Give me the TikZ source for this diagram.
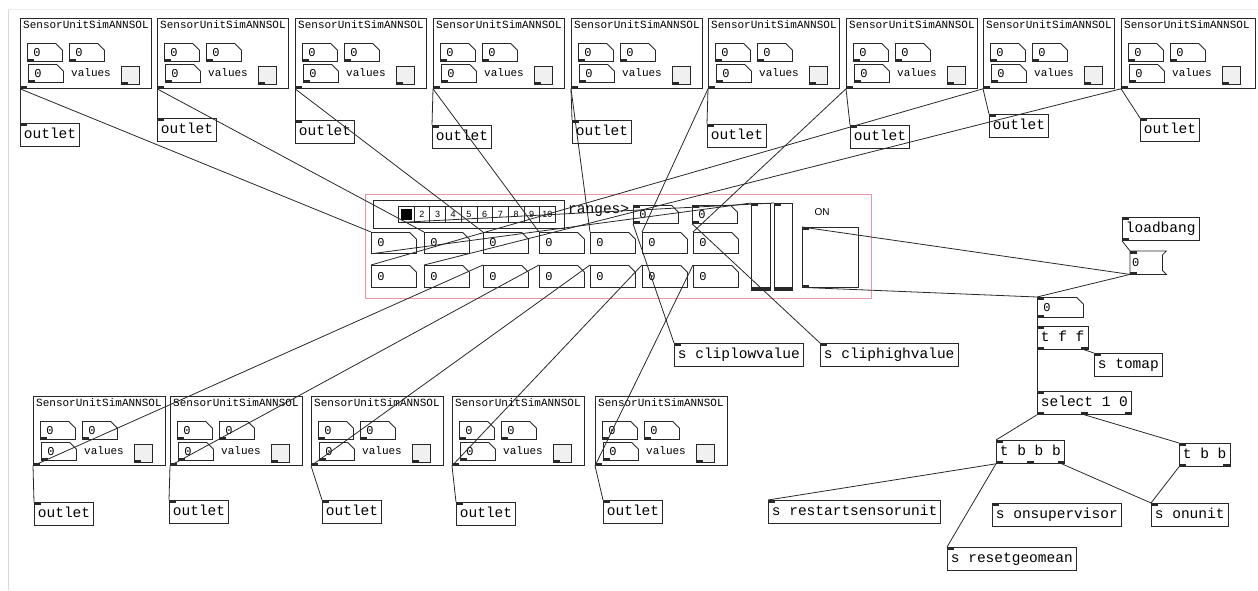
\documentclass[tikz,border=0pt]{standalone}
\usepackage{fontspec}
\setmonofont{Liberation Mono}
\setsansfont{Liberation Sans}
\usetikzlibrary{shapes.misc}
\definecolor{pdline}{RGB}{40,40,40}
\definecolor{pdpink}{RGB}{236,150,165}
\newcommand\pdfont{\ttfamily\fontsize{14.5}{16}\selectfont}
\newcommand\subfont{\ttfamily\fontsize{11}{12}\selectfont}
\newcommand\numfont{\ttfamily\fontsize{12}{12}\selectfont}

\tikzset{
  obj/.style={draw=pdline, line width=0.8pt, fill=white, anchor=north west, font=\pdfont,
    inner xsep=3.5pt, inner ysep=0pt, minimum height=23pt, text height=10pt, text depth=3pt},
  atom/.style={chamfered rectangle, chamfered rectangle corners=north east,
    chamfered rectangle xsep=5pt, draw=pdline, line width=0.8pt, fill=white,
    anchor=north west, font=\numfont, inner xsep=2pt, inner ysep=0pt,
    text width=#1, align=left, minimum height=20pt},
  atom/.default=23pt,
  sensorbox/.style={draw=pdline, line width=0.8pt, anchor=north west,
    minimum height=70pt, inner sep=0pt},
  wire/.style={draw=pdline, line width=0.8pt},
}

% inside of one SensorUnitSimANNSOL subpatch
\newcommand\sensorparts[1]{%
  \begin{scope}[shift={(#1.north west)}]
    \node[anchor=west, font=\subfont, inner sep=0pt] (#1-t) at (3,7) {SensorUnitSimANNSOL};
    \node[atom, minimum height=18pt] (#1-a1) at (7,25) {0};
    \node[atom, minimum height=18pt] (#1-a2) at (49,25) {0};
    \node[atom, minimum height=18pt] (#1-a3) at (8,46) {0};
    \node[anchor=west, font=\subfont, inner sep=0pt] (#1-v) at (51,55) {values};
    \node[draw=pdline, fill=gray!12, anchor=north west, minimum size=18pt, inner sep=0pt] (#1-x) at (101,48) {};
  \end{scope}
  \foreach \a in {a1,a2,a3,x} \fill[pdline] (#1-\a.south west) rectangle ++(7pt,2.5pt);
  \fill[pdline] (#1.south west) rectangle ++(7pt,2.5pt);}

\begin{document}
\begin{tikzpicture}[x=1pt,y=-1pt]
\useasboundingbox (0,0) rectangle (1258,590);
\draw[gray!30, line width=1pt] (8,9) -- (8,590);
\draw[gray!15, line width=1pt] (8,9) -- (1258,9);

% sensor units, top row and bottom row
\foreach \n/\x/\w in {1/20/131,2/157/131,3/295/131,4/433/131,5/571/131,6/708/131,7/846/131,8/983/131,9/1121/134}
  \node[sensorbox, minimum width=\w pt] (s\n) at (\x,18) {};
\foreach \n/\x in {1/33,2/170,3/311,4/452,5/595}
  \node[sensorbox, minimum width=132pt, minimum height=69pt] (b\n) at (\x,396) {};
\foreach \n in {1,...,9} \sensorparts{s\n};
\foreach \n in {1,...,5} \sensorparts{b\n};

\foreach \n/\x/\y in {1/20/123,2/157/118,3/295/120,4/432/125,5/572/120,6/707/124,7/850/125,8/989/114,9/1140/118}
  \node[obj] (o\n) at (\x,\y) {outlet};
\foreach \n/\x/\y in {1/34/502,2/169/500,3/322/500,4/456/502,5/603/500}
  \node[obj] (p\n) at (\x,\y) {outlet};

% the ranges panel
\node[draw=pdpink, line width=0.8pt, fill=white, anchor=north west, minimum width=506pt,
  minimum height=104pt, inner sep=0pt] (panel) at (365,194) {};
\node[draw=pdline, line width=0.6pt, anchor=north west, minimum width=191pt,
  minimum height=28pt, inner sep=0pt] (frame) at (373,200) {};
\foreach \k in {1,...,10}
  \node[draw=pdline, line width=0.5pt, anchor=north west, minimum width=15.7pt, minimum height=16pt,
    inner sep=0pt, font=\sffamily\fontsize{9}{9}\selectfont] (rc\k) at ({398+15.7*(\k-1)},206) {\ifnum\k>1 \k\fi};
\fill[black] ([shift={(2.5pt,-2.5pt)}]rc1.north west) rectangle ([shift={(-2.5pt,2.5pt)}]rc1.south east);
\node[anchor=west, font=\pdfont, inner sep=0pt] (rlabel) at (568,211) {ranges>};
\node[atom=33pt, minimum height=18pt] (rg1) at (633,205) {0};
\node[atom=33pt, minimum height=18pt] (rg2) at (692,205) {0};
\foreach \k/\x in {1/371,2/424,3/483,4/539,5/590,6/642,7/693} {
  \node[atom=33pt, minimum height=21pt] (ra\k) at (\x,232) {0};
  \node[atom=33pt, minimum height=22pt] (rb\k) at (\x,265) {0};
}
\node[draw=pdline, anchor=north west, minimum width=19pt, minimum height=87pt, inner sep=0pt] (sl1) at (751,203) {};
\node[draw=pdline, anchor=north west, minimum width=18pt, minimum height=87pt, inner sep=0pt] (sl2) at (774,203) {};
\foreach \n in {sl1,sl2} \fill[pdline] (\n.south west) rectangle ([yshift=3pt]\n.south east);
\node[font=\sffamily\fontsize{10}{10}\selectfont, inner sep=0pt] (onlabel) at (822,212) {ON};
\node[draw=pdline, anchor=north west, minimum width=56pt, minimum height=60pt, inner sep=0pt] (tg) at (802,227) {};

% control chain on the right
\node[obj] (lb) at (1122,217) {loadbang};
\node[anchor=north west, font=\numfont, inner xsep=2pt, inner ysep=0pt, text width=28pt,
  minimum height=23pt] (msg) at (1130,251) {0};
\draw[wire] (msg.north west) -- ([xshift=4pt]msg.north east) -- ([yshift=-4pt]msg.north east)
  -- ([yshift=4pt]msg.south east) -- ([xshift=4pt]msg.south east) -- (msg.south west) -- cycle;
\node[atom=34pt, minimum height=20pt] (num) at (1037,297) {0};
\node[obj] (tff) at (1037,326) {t f f};
\node[obj] (tomap) at (1094,353) {s tomap};
\node[obj] (sel) at (1037,391) {select 1 0};
\node[obj] (tbbb) at (996,440) {t b b b};
\node[obj] (tbb) at (1179,443) {t b b};
\node[obj] (restart) at (768,500) {s restartsensorunit};
\node[obj] (onsup) at (992,503) {s onsupervisor};
\node[obj] (onunit) at (1151,503) {s onunit};
\node[obj] (resetgeo) at (947,547) {s resetgeomean};
\node[obj] (cliplow) at (674,343) {s cliplowvalue};
\node[obj] (cliphigh) at (820,343) {s cliphighvalue};

% inlets and outlets
\foreach \n in {o1,o2,o3,o4,o5,o6,o7,o8,o9,p1,p2,p3,p4,p5,lb,msg,tff,tomap,sel,tbbb,tbb,restart,onsup,onunit,resetgeo,cliplow,cliphigh,num,rg1,rg2,tg,sl1,sl2}
  \fill[pdline] (\n.north west) rectangle ++(7pt,-2.5pt);
\foreach \n in {lb,msg,num,tff,sel,tbbb,tbb,rg1,rg2,tg}
  \fill[pdline] (\n.south west) rectangle ++(7pt,2.5pt);
\foreach \n in {tff,sel,tbbb,tbb}
  \fill[pdline] (\n.south east) rectangle ++(-7pt,2.5pt);
\fill[pdline] ([xshift=-3.5pt]sel.south) rectangle ++(7pt,2.5pt);
\fill[pdline] ([xshift=-3.5pt]tbbb.south) rectangle ++(7pt,2.5pt);

% connections
\foreach \n in {1,...,9} \draw[wire] (s\n.south west) -- (o\n.north west);
\foreach \n in {1,...,5} \draw[wire] (b\n.south west) -- (p\n.north west);
\foreach \a/\b in {s1/ra1,s2/ra2,s3/ra3,s4/ra4,s5/ra5,s6/ra6,s7/ra7,s8/rb1,s9/rb2,
    b1/rb3,b2/rb4,b3/rb5,b4/rb6,b5/rb7,rg1/cliplow,rg2/cliphigh,ra1/sl1,rc1/sl2,
    lb/msg,msg/tg,msg/num,tg/num,num/tff,tff/sel,sel/tbbb,tbbb/restart,tbbb/resetgeo,tbb/onunit}
  \draw[wire] (\a.south west) -- (\b.north west);
\draw[wire] ([xshift=-4pt]tff.south east) -- (tomap.north west);
\draw[wire] (sel.south) -- (tbb.north west);
\draw[wire] ([xshift=-3pt]tbbb.south east) -- (onunit.north west);
\end{tikzpicture}
\end{document}
